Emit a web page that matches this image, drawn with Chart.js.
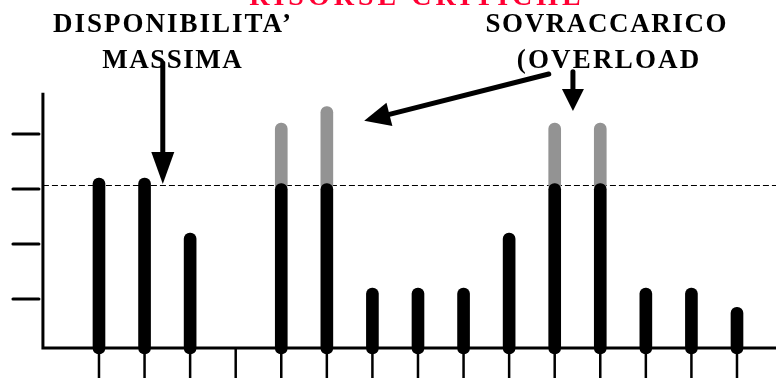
<!DOCTYPE html>
<html>
<head>
<meta charset="utf-8">
<script src="https://cdn.jsdelivr.net/npm/chart.js@4.4.0/dist/chart.umd.min.js"></script>
<style>
  html, body { margin: 0; padding: 0; background: #fff; }
  #wrap { width: 776px; height: 378px; }
</style>
</head>
<body>
<div id="wrap"><canvas id="chart" width="776" height="378"></canvas></div>
<script>
// periodi (asse x, senza etichette)
const periodi = [0, 1, 2, 3, 4, 5, 6, 7, 8, 9, 10, 11, 12, 13, 14];
// carico entro la disponibilita' (parte nera)
const caricoBase = [3.2, 3.2, 2.2, null, 3.1, 3.1, 1.2, 1.2, 1.2, 2.2, 3.1, 3.1, 1.2, 1.2, 0.85];
// carico totale dove supera la disponibilita' (parte grigia)
const sovraccarico = [null, null, null, null, 4.2, 4.5, null, null, null, null, 4.2, 4.2, null, null, null];
const disponibilitaMassima = 3.07;
const yTicks = [1, 2, 3, 4];

const titolo = 'RISORSE CRITICHE';
const etichettaSx = ['DISPONIBILITA\u2019', 'MASSIMA'];
const etichettaDx = ['SOVRACCARICO', '(OVERLOAD'];

const SERIF = '"Liberation Serif", "Times New Roman", serif';

// frecce in coordinate dei dati (periodo, valore)
const frecce = [
    { da: [1.40, 5.29], a: [1.40, 3.09], head: 32, wide: 23 },
    { da: [9.87, 5.09], a: [5.82, 4.24], head: 26, wide: 24 },
    { da: [10.40, 5.13], a: [10.40, 4.42], head: 22, wide: 22 },
];

function drawArrow(ctx, x1, y1, x2, y2, head, wide) {
    const ang = Math.atan2(y2 - y1, x2 - x1);
    const bx = x2 - Math.cos(ang) * head;
    const by = y2 - Math.sin(ang) * head;
    ctx.save();
    ctx.strokeStyle = '#000';
    ctx.fillStyle = '#000';
    ctx.lineWidth = 5;
    ctx.lineCap = 'round';
    ctx.beginPath();
    ctx.moveTo(x1, y1);
    ctx.lineTo(bx, by);
    ctx.stroke();
    const nx = -Math.sin(ang) * wide / 2;
    const ny = Math.cos(ang) * wide / 2;
    ctx.beginPath();
    ctx.moveTo(x2, y2);
    ctx.lineTo(bx + nx, by + ny);
    ctx.lineTo(bx - nx, by - ny);
    ctx.closePath();
    ctx.fill();
    ctx.restore();
}

function drawText(ctx, text, x, y, font, color, spacing) {
    ctx.save();
    ctx.font = font;
    ctx.fillStyle = color;
    ctx.letterSpacing = spacing + 'px';
    const w = ctx.measureText(text).width - spacing;
    ctx.textAlign = 'left';
    ctx.textBaseline = 'alphabetic';
    ctx.fillText(text, x - w / 2, y);
    ctx.restore();
}

const decorPlugin = {
    id: 'decor',
    beforeDatasetsDraw(chart) {
        const ctx = chart.ctx;
        const xs = chart.scales.x;
        const ys = chart.scales.y;
        const area = chart.chartArea;
        const axisX = xs.getPixelForValue(-1.23);
        const axisY = ys.getPixelForValue(0.11);
        ctx.save();
        ctx.strokeStyle = '#000';
        // linea tratteggiata della disponibilita' massima
        const yDisp = Math.round(ys.getPixelForValue(disponibilitaMassima)) + 0.5;
        ctx.lineWidth = 1;
        ctx.setLineDash([6, 3]);
        ctx.beginPath();
        ctx.moveTo(axisX, yDisp);
        ctx.lineTo(area.right, yDisp);
        ctx.stroke();
        ctx.setLineDash([]);
        // tacche sotto l'asse x
        ctx.lineWidth = 2.5;
        periodi.forEach((p) => {
            const px = xs.getPixelForValue(p);
            ctx.beginPath();
            ctx.moveTo(px, axisY);
            ctx.lineTo(px, area.bottom);
            ctx.stroke();
        });
        // assi
        ctx.lineWidth = 3;
        ctx.beginPath();
        ctx.moveTo(axisX, ys.getPixelForValue(4.75));
        ctx.lineTo(axisX, axisY);
        ctx.lineTo(area.right, axisY);
        ctx.stroke();
        // tacche asse y
        ctx.lineCap = 'round';
        yTicks.forEach((v) => {
            const py = ys.getPixelForValue(v);
            ctx.beginPath();
            ctx.moveTo(axisX - 30, py);
            ctx.lineTo(axisX - 4, py);
            ctx.stroke();
        });
        ctx.restore();
    },
    afterDatasetsDraw(chart) {
        const ctx = chart.ctx;
        const xs = chart.scales.x;
        const ys = chart.scales.y;
        const f = 'bold 27px ' + SERIF;
        drawText(ctx, titolo, 415, 5, 'bold 28px ' + SERIF, '#ff0033', 4);
        drawText(ctx, etichettaSx[0], 172, 32, f, '#000', 2);
        drawText(ctx, etichettaSx[1], 172, 68, f, '#000', 1.5);
        drawText(ctx, etichettaDx[0], 606, 32, f, '#000', 1.6);
        drawText(ctx, etichettaDx[1], 608, 68, f, '#000', 2.2);
        frecce.forEach((fr) => {
            drawArrow(ctx,
                xs.getPixelForValue(fr.da[0]), ys.getPixelForValue(fr.da[1]),
                xs.getPixelForValue(fr.a[0]), ys.getPixelForValue(fr.a[1]),
                fr.head, fr.wide);
        });
    },
};

const barStyle = {
    barThickness: 12,
    borderRadius: 6,
    borderSkipped: false,
    borderWidth: 0,
    grouped: false,
};

new Chart(document.getElementById('chart'), {
    type: 'bar',
    data: {
        datasets: [
            {
                label: 'Carico',
                data: periodi.map((p, i) => ({ x: p, y: caricoBase[i] })),
                backgroundColor: '#000',
                ...barStyle,
            },
            {
                label: 'Sovraccarico',
                data: periodi.map((p, i) => ({
                    x: p,
                    y: sovraccarico[i] == null ? null : [disponibilitaMassima - 0.1, sovraccarico[i]],
                })),
                backgroundColor: '#939393',
                ...barStyle,
            },
        ],
    },
    options: {
        responsive: false,
        devicePixelRatio: 1,
        animation: false,
        layout: { padding: 0 },
        plugins: { legend: { display: false }, tooltip: { enabled: false } },
        scales: {
            x: { type: 'linear', offset: false, min: -2.172, max: 14.856, display: false },
            y: { type: 'linear', min: -0.436, max: 6.436, display: false },
        },
    },
    plugins: [decorPlugin],
});
</script>
</body>
</html>
